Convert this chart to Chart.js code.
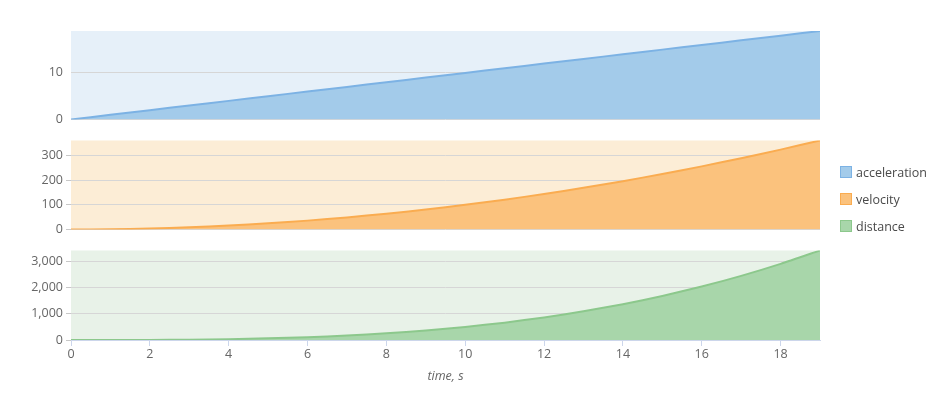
<!DOCTYPE html>
<html>
<head>
<meta charset="utf-8">
<script src="https://cdn.jsdelivr.net/npm/chart.js@4"></script>
<style>
  body { margin: 0; background: #fff; font-family: "Open Sans", sans-serif; }
  #wrap { position: relative; width: 938px; height: 394px; }
  .panel { position: absolute; left: 0; width: 938px; }
  #legend { position: absolute; left: 840px; top: 164px; font-size: 12.5px; color: #4a4a4a; }
  #legend div { height: 27px; line-height: 18px; white-space: nowrap; }
  #legend span.box { display: inline-block; width: 10px; height: 10px; vertical-align: -1px; margin-right: 4px; border: 1px solid; }
</style>
</head>
<body>
<div id="wrap">
  <div class="panel" style="top:0;height:130px"><canvas id="c1"></canvas></div>
  <div class="panel" style="top:130px;height:110px"><canvas id="c2"></canvas></div>
  <div class="panel" style="top:240px;height:154px"><canvas id="c3"></canvas></div>
  <div id="legend"></div>
</div>
<script>
const time = [0, 1, 2, 3, 4, 5, 6, 7, 8, 9, 10, 11, 12, 13, 14, 15, 16, 17, 18, 19];
const acceleration = [0, 1, 2, 3, 4, 5, 6, 7, 8, 9, 10, 11, 12, 13, 14, 15, 16, 17, 18, 19];
const velocity = [0, 1, 4, 9, 16, 25, 36, 49, 64, 81, 100, 121, 144, 169, 196, 225, 256, 289, 324, 361];
const distance = [0, 0.5, 4, 13.5, 32, 62.5, 108, 171.5, 256, 364.5, 500, 665.5, 864, 1098.5, 1372, 1687.5, 2048, 2456.5, 2916, 3429.5];

const timeTicks = [0, 2, 4, 6, 8, 10, 12, 14, 16, 18];
const accelerationTicks = [0, 10];
const velocityTicks = [0, 100, 200, 300];
const distanceTicks = [0, 1000, 2000, 3000];

const panels = [
  { id: "c1", label: "acceleration", data: acceleration, max: 19, yTicks: accelerationTicks,
    line: "rgb(124,178,228)", fill: "rgb(163,203,234)", bg: "rgb(230,240,249)", top: 31, bottom: 10, ticks: false },
  { id: "c2", label: "velocity", data: velocity, max: 361, yTicks: velocityTicks,
    line: "rgb(250,172,80)", fill: "rgb(251,194,125)", bg: "rgb(252,237,214)", top: 10, bottom: 10, ticks: true },
  { id: "c3", label: "distance", data: distance, max: 3429.5, yTicks: distanceTicks,
    line: "rgb(140,200,140)", fill: "rgb(168,214,170)", bg: "rgb(232,242,232)", top: 10, bottom: 10, ticks: true }
];

const fontFamily = '"Open Sans", sans-serif';

const panelBg = {
  id: "panelBg",
  beforeDraw(chart, args, opts) {
    const a = chart.chartArea;
    chart.ctx.save();
    chart.ctx.fillStyle = opts.color;
    chart.ctx.fillRect(a.left, a.top, a.right - a.left, a.bottom - a.top);
    chart.ctx.restore();
  }
};

panels.forEach(function (p, i) {
  const last = i === panels.length - 1;
  new Chart(document.getElementById(p.id), {
    type: "line",
    data: {
      labels: time,
      datasets: [{
        label: p.label,
        data: time.map((t, k) => ({ x: t, y: p.data[k] })),
        borderColor: p.line,
        backgroundColor: p.fill,
        borderWidth: 2,
        pointRadius: 0,
        fill: "origin",
        tension: 0.2
      }]
    },
    plugins: [panelBg],
    options: {
      responsive: true,
      maintainAspectRatio: false,
      animation: false,
      layout: { padding: { left: 0, right: 118, top: p.top, bottom: p.bottom } },
      plugins: {
        legend: { display: false },
        tooltip: { enabled: false },
        panelBg: { color: p.bg }
      },
      scales: {
        x: {
          type: "linear",
          min: 0,
          max: 19,
          display: last,
          afterBuildTicks: s => { s.ticks = timeTicks.map(v => ({ value: v })); },
          afterFit: s => { if (last) s.height = 44; },
          grid: { display: true, drawOnChartArea: false, tickLength: 6, color: "#ccd6eb" },
          border: { color: "#ccd6eb" },
          ticks: { autoSkip: false, color: "#666", font: { family: fontFamily, size: 12.5 }, padding: 1, maxRotation: 0 },
          title: { display: true, text: "time, s", color: "#666", font: { family: fontFamily, size: 12.5, style: "italic" }, padding: { top: 6, bottom: 0 } }
        },
        y: {
          min: 0,
          max: p.max,
          afterBuildTicks: s => { s.ticks = p.yTicks.map(v => ({ value: v })); },
          afterFit: s => { s.width = 71; },
          border: { display: false },
          grid: { color: "rgb(214,214,214)", tickLength: 5, tickColor: p.ticks ? "rgb(200,200,200)" : "rgba(0,0,0,0)" },
          ticks: { autoSkip: false, color: "#666", font: { family: fontFamily, size: 12.5 }, padding: 3 }
        }
      }
    }
  });
});

const legend = document.getElementById("legend");
panels.forEach(function (p) {
  const row = document.createElement("div");
  row.innerHTML = '<span class="box" style="background:' + p.fill + ';border-color:' + p.line + '"></span>' + p.label;
  legend.appendChild(row);
});
</script>
</body>
</html>
